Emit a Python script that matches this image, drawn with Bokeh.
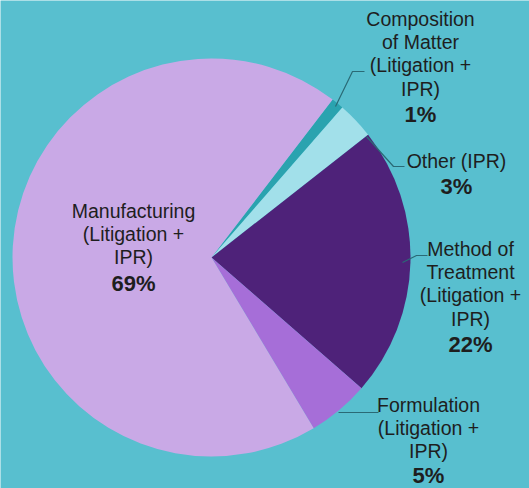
import numpy as np
from bokeh.plotting import figure
from bokeh.models import Range1d
from bokeh.core.properties import value
from bokeh.embed import file_html
from bokeh.resources import INLINE

# ---- data ----
categories = ["Composition of Matter (Litigation + IPR)", "Other (IPR)",
              "Method of Treatment (Litigation + IPR)", "Formulation (Litigation + IPR)",
              "Manufacturing (Litigation + IPR)"]
shares = [1, 3, 22, 5, 69]
label_lines = [["Composition", "of Matter", "(Litigation +", "IPR)"],
               ["Other (IPR)"],
               ["Method of", "Treatment", "(Litigation +", "IPR)"],
               ["Formulation", "(Litigation +", "IPR)"],
               ["Manufacturing", "(Litigation +", "IPR)"]]
colors = ["#2AA3AF", "#A2E0EA", "#4E2279", "#A66ED8", "#C9A9E6"]

# ---- layout (reference pixel coordinates; y downward, plotted as -y) ----
BG = "#58BFCF"
cx, cy, R = 211, 257, 199
start_deg = 52.5
label_pos = [(420, 18), (456, 160), (470, 248), (428, 404), (133, 210)]
line_gap = 23.4
pct_gaps = [26, 26, 26, 24.5, 26]
leaders = [[(335, 106), (352, 71), (364, 71)],
           [(366, 136), (393, 166), (404, 166)],
           [(402, 262), (416, 255), (427, 255)],
           [(338, 412), (378, 412)],
           None]

W, H = 529, 488
p = figure(width=W, height=H, output_backend="svg", toolbar_location=None,
           x_range=Range1d(0, W), y_range=Range1d(-H, 0),
           min_border=0)
p.axis.visible = False
p.grid.visible = False
p.outline_line_color = None
p.background_fill_color = BG
p.border_fill_color = BG

total = float(sum(shares))
cum = np.concatenate([[0], np.cumsum(shares)[:-1]])
upper = np.deg2rad(start_deg) - 2 * np.pi * cum / total
lower = upper - 2 * np.pi * np.array(shares) / total
p.wedge(x=cx, y=-cy, radius=R, start_angle=lower, end_angle=upper,
        direction="anticlock", fill_color=colors, line_color=None)

font = value("Liberation Sans")
fs = "19.5px"
fs_pct = "22px"
for i, lines in enumerate(label_lines):
    lx, ly = label_pos[i]
    ys = [-(ly + k * line_gap) for k in range(len(lines))]
    p.text(x=[lx] * len(lines), y=ys, text=lines, text_font=font,
           text_font_size=fs, text_align="center", text_baseline="middle",
           text_color="#1E1E1E")
    py = ly + (len(lines) - 1) * line_gap + pct_gaps[i]
    p.text(x=[lx], y=[-py], text=[f"{shares[i]}%"], text_font=font,
           text_font_size=fs_pct, text_font_style="bold", text_align="center",
           text_baseline="middle", text_color="#1E1E1E")
    if leaders[i]:
        xs = [pt[0] for pt in leaders[i]]
        yy = [-pt[1] for pt in leaders[i]]
        p.line(xs, yy, line_color="#2A6A76", line_width=1.2)

open("out.html", "w").write(file_html(p, INLINE))
